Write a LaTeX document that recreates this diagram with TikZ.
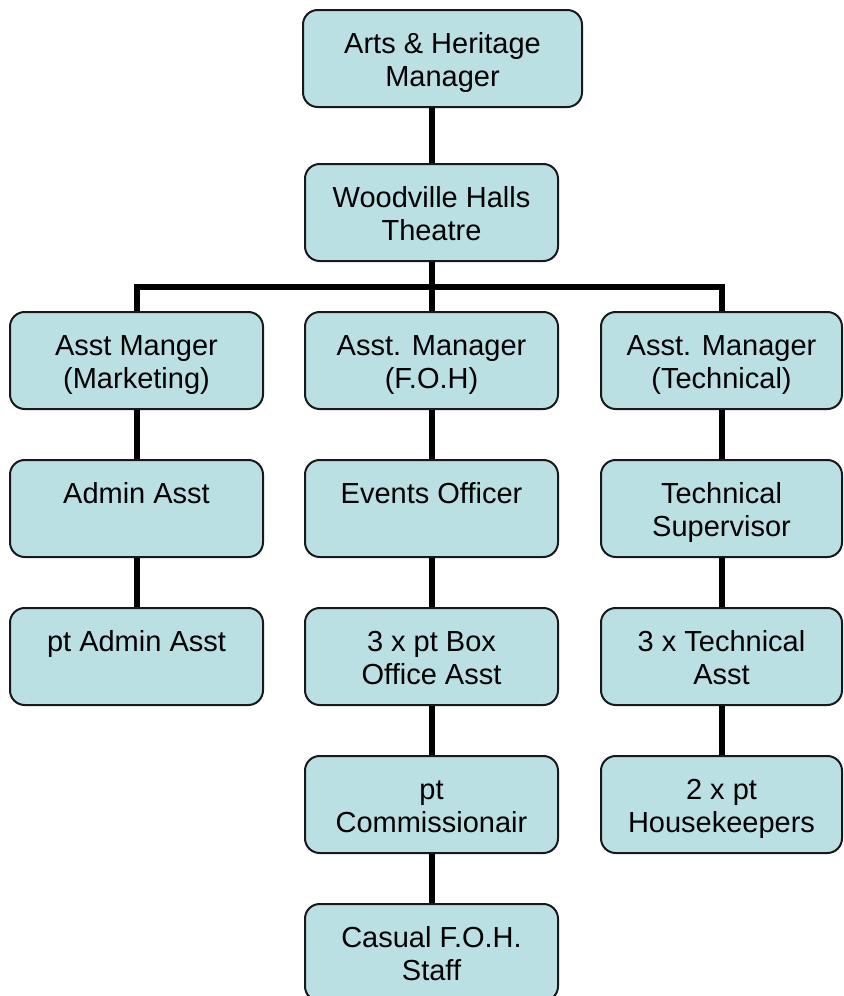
\documentclass[tikz,border=0pt]{standalone}
\usepackage{fontspec}
\setmainfont{Liberation Sans}
\usepackage{tikz}
\definecolor{jobfill}{HTML}{BBE0E3}

\begin{document}
\begin{tikzpicture}[
  x=0.75pt, y=-0.75pt,
  every node/.style={font=\fontsize{21.75}{24.75}\selectfont},
  jobbox/.style={
    draw=black!90, line width=1.5pt, fill=jobfill, rounded corners=11pt,
    inner sep=0pt, anchor=north,
    execute at begin node={\begin{minipage}[c][72.75pt][t]{#1}\centering\rule{0pt}{32.6pt}},
    execute at end node={\end{minipage}},
  },
  jobbox/.default=189.75pt,
  link/.style={line width=4.5pt, black},
]
  \useasboundingbox (0,0) rectangle (843,996);

  \node[jobbox=209.25pt] (ahm) at (442.5,9) {Arts \& Heritage\\Manager};
  \node[jobbox] (whl) at (431.5,163) {Woodville Halls\\Theatre};

  % assistant managers
  \node[jobbox]          (mkt)  at (136.5,311) {Asst Manger\\(Marketing)};
  \node[jobbox]          (foh)  at (431.5,311) {Asst. Manager\\(F.O.H)};
  \node[jobbox=180.75pt] (tech) at (721.5,311) {Asst. Manager\\(Technical)};

  \node[jobbox]          (admin)    at (136.5,459) {Admin Asst};
  \node[jobbox]          (events)   at (431.5,459) {Events Officer};
  \node[jobbox=180.75pt] (techsup)  at (721.5,459) {Technical\\Supervisor};

  \node[jobbox]          (ptadmin)  at (136.5,607) {pt Admin Asst};
  \node[jobbox]          (boxoff)   at (431.5,607) {3 x pt Box\\Office Asst};
  \node[jobbox=180.75pt] (techasst) at (721.5,607) {3 x Technical\\Asst};

  \node[jobbox]          (comm)     at (431.5,755) {pt\\Commissionair};
  \node[jobbox=180.75pt] (house)    at (721.5,755) {2 x pt\\Housekeepers};

  \node[jobbox]          (casual)   at (431.5,903) {Casual F.O.H.\\Staff};

  % connectors
  \coordinate (bar) at (0,287);
  \draw[link] (whl.north) -- (whl.north |- ahm.south);
  \draw[link] (whl.south) -- (foh.north);
  \draw[link] (mkt.north) -- (mkt.north |- bar) -- (tech.north |- bar) -- (tech.north);
  \foreach \a/\b in {mkt/admin, admin/ptadmin, foh/events, events/boxoff,
                     boxoff/comm, comm/casual, tech/techsup, techsup/techasst,
                     techasst/house}
    \draw[link] (\a) -- (\b);
\end{tikzpicture}
\end{document}
